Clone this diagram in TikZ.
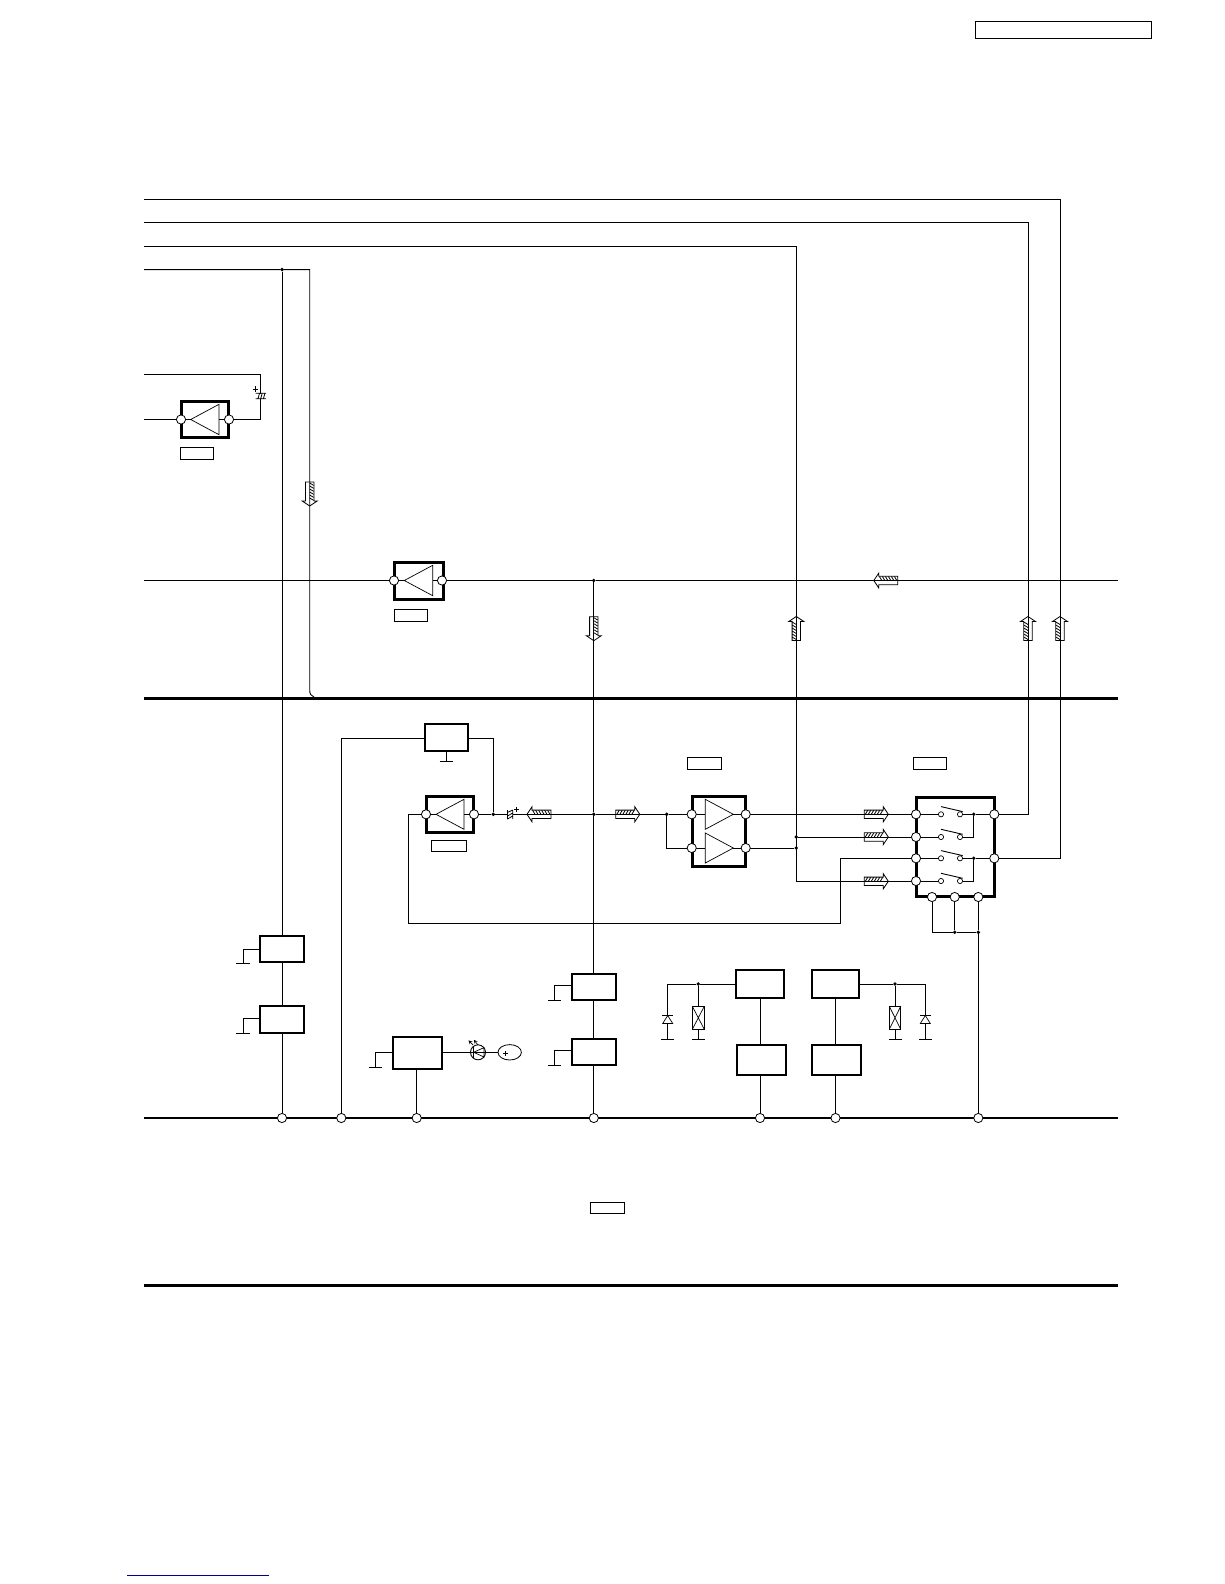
\documentclass[tikz,border=0pt]{standalone}
\usetikzlibrary{shapes.geometric}
\pgfdeclarelayer{wires}
\pgfsetlayers{wires,main}
\tikzset{
  wire/.style={line width=0.9pt,draw=black,line join=miter},
  bus/.style={line width=2.8pt,draw=black},
  heavybus/.style={line width=3.2pt,draw=black},
  pinc/.style={circle,draw=black,fill=white,line width=0.8pt,minimum size=9.2pt,inner sep=0pt,outer sep=0pt},
  contact/.style={circle,draw=black,fill=white,line width=0.7pt,minimum size=5.2pt,inner sep=0pt,outer sep=0pt},
  junction/.style={circle,fill=black,minimum size=3.8pt,inner sep=0pt,outer sep=0pt},
  ampbox/.style={rectangle,draw=black,line width=3pt,inner sep=0pt,outer sep=0pt},
  blockbox/.style={rectangle,draw=black,line width=2pt,inner sep=0pt,outer sep=0pt},
  tagbox/.style={rectangle,draw=black,line width=0.8pt,inner sep=0pt,outer sep=0pt},
  tri/.style={draw=black,line width=0.7pt,line join=miter},
  sym/.style={draw=black,line width=0.8pt},
  flowline/.style={draw=black,line width=0.8pt,line join=miter},
  hatchline/.style={draw=black,line width=0.8pt}
}
\def\boxinset{0}
% style, name, x1, y1, x2, y2 (outer edges; inset by part of the stroke)
\newcommand{\bx}[6]{%
  \pgfmathsetmacro\bxw{#5-#3-2*\boxinset}\pgfmathsetmacro\bxh{#6-#4-2*\boxinset}%
  \pgfmathsetmacro\bxx{(#3+#5)/2}\pgfmathsetmacro\bxy{(#4+#6)/2}%
  \node[#1,minimum width=\bxw pt,minimum height=\bxh pt] (#2) at (\bxx,\bxy) {};}
% tip x, base x, y, half height
\newcommand{\ampsym}[4]{\draw[tri] (#1,#3) -- (#2,{#3-#4}) -- (#2,{#3+#4}) -- cycle;}
% x, y, half width
\newcommand{\gbar}[3]{\draw[wire] ({#1-#3},#2) -- ({#1+#3},#2);}
% x, y, rotation, hatched side (-1 or 1)
\newcommand{\flowarrow}[4]{%
  \begin{scope}[shift={(#1,#2)},rotate=#3]
    \draw[flowline] (-12,-4.2) -- (7,-4.2) -- (7,-7.5) -- (12,0) -- (7,7.5) -- (7,4.2) -- (-12,4.2) -- cycle;
    \foreach \h in {-11,-8,-5,-2,1,4}{\draw[hatchline] (\h,0) -- ({\h+2.4},{#4*4});}
  \end{scope}}
% x, y, side: switch lever
\newcommand{\lever}[2]{\draw[wire] (941,{#2-7.7}) -- (962.7,{#2-2.7});}
% x of wire, y
\newcommand{\diodesym}[2]{%
  \draw[tri,fill=white] (#1,{#2-4}) -- ({#1-5},{#2+4}) -- ({#1+5},{#2+4}) -- cycle;
  \draw[tri] ({#1-5.5},{#2-4}) -- ({#1+5.5},{#2-4});}
% x1, y1, x2, y2
\newcommand{\xrect}[5]{%
  \bx{tagbox,fill=white}{#5}{#1}{#2}{#3}{#4}
  \draw[tri] (#1,#2) -- (#3,#4) (#3,#2) -- (#1,#4);}
\begin{document}
\begin{tikzpicture}[x=1pt,y=-1pt]
\begin{pgfonlayer}{wires}
\fill[white] (0,0) rectangle (1224,1584);
\end{pgfonlayer}
\useasboundingbox (0,0) rectangle (1224,1584);

% tag boxes
\bx{tagbox}{tagTop}{975.5}{21.5}{1151}{38.5}
\bx{tagbox}{tagA}{180.3}{447.3}{213.3}{459.3}
\bx{tagbox}{tagB}{394.3}{609.3}{427.3}{621.7}
\bx{tagbox}{tagC}{687.3}{757.3}{721.7}{769.7}
\bx{tagbox}{tagD}{913.3}{757.3}{946.7}{769.7}
\bx{tagbox}{tagE}{431.3}{840.3}{466.7}{851.7}
\bx{tagbox}{tagF}{590.8}{1202}{624}{1213}
\xrect{692.3}{1006.3}{704.3}{1029.3}{xrE}
\xrect{889.3}{1006.3}{900.7}{1029.3}{xrF}

% amplifier boxes
\def\boxinset{0.6}
\bx{ampbox}{ampUp}{180.7}{401}{229.3}{438}
\bx{ampbox}{ampMid}{393.7}{561.7}{443.7}{600}
\bx{ampbox}{ampLow}{425.7}{796}{474}{833}
\bx{ampbox}{ampTwin}{692}{796}{746}{866.7}
\bx{ampbox}{switchBox}{916}{796.7}{995}{897.3}

% blocks
\def\boxinset{0.2}
\bx{blockbox}{regTop}{424.7}{723.7}{467.7}{750.7}
\bx{blockbox}{regA}{260}{935.7}{304}{962}
\bx{blockbox}{regB}{260}{1006}{304}{1033.3}
\bx{blockbox}{regC}{571.3}{973.7}{616.3}{1000}
\bx{blockbox}{regD}{571.3}{1038.7}{616.3}{1065.3}
\bx{blockbox}{regLed}{392.7}{1036.7}{442.3}{1069.3}
\bx{blockbox}{regE}{736}{970}{784}{998}
\bx{blockbox}{regF}{811.7}{970}{859.3}{998}
\bx{blockbox}{regG}{737}{1045}{786.3}{1075.3}
\bx{blockbox}{regH}{812}{1045}{861.3}{1075.3}

% amplifier triangles
\ampsym{190.7}{219}{419.5}{15.2}
\ampsym{404.3}{432.7}{580.5}{15.2}
\ampsym{436}{464}{814.3}{15}
\ampsym{733.3}{705.3}{814.3}{15}
\ampsym{733.3}{705.3}{848}{15}

% pins
\node[pinc] (upL) at (181,419.5) {};
\node[pinc] (upR) at (229,419.5) {};
\node[pinc] (midL) at (394,580.5) {};
\node[pinc] (midR) at (442,580.5) {};
\node[pinc] (lowL) at (426,814.3) {};
\node[pinc] (lowR) at (474,814.3) {};
\node[pinc] (twinA) at (691.7,814.3) {};
\node[pinc] (twinB) at (691.7,848) {};
\node[pinc] (twinC) at (745.7,814.3) {};
\node[pinc] (twinD) at (745.7,848) {};
\node[pinc] (swL1) at (916,814.3) {};
\node[pinc] (swL2) at (916,837) {};
\node[pinc] (swL3) at (916,858.3) {};
\node[pinc] (swL4) at (916,881) {};
\node[pinc] (swR1) at (994.3,814.3) {};
\node[pinc] (swR2) at (994.3,858.3) {};
\node[pinc] (swB1) at (932,897) {};
\node[pinc] (swB2) at (954.7,897) {};
\node[pinc] (swB3) at (978.3,897) {};
\node[pinc] (busP1) at (282,1118) {};
\node[pinc] (busP2) at (341.3,1118) {};
\node[pinc] (busP3) at (416.7,1118) {};
\node[pinc] (busP4) at (593.8,1118) {};
\node[pinc] (busP5) at (760,1118) {};
\node[pinc] (busP6) at (835.5,1118) {};
\node[pinc] (busP7) at (978.3,1118) {};

% switch contacts
\foreach \n/\y in {1/814.3,2/837,3/858.3,4/881}{
  \node[contact] (ca\n) at (941,\y) {};
  \node[contact] (cb\n) at (960,\y) {};
  \lever{941}{\y}
}

% junctions
\node[junction] (jTap) at (282,269.6) {};
\node[junction] (jMid) at (593.8,580.5) {};
\node[junction] (jIn) at (493.3,814.3) {};
\node[junction] (jLine) at (593.8,814.3) {};
\node[junction] (jTwin) at (666.7,814.3) {};
\node[junction] (jV1) at (796.3,837) {};
\node[junction] (jV2) at (796.3,848) {};
\node[junction] (jS1) at (973.7,814.3) {};
\node[junction] (jS2) at (973.7,858.3) {};
\node[junction] (jB2) at (954.7,932.3) {};
\node[junction] (jB3) at (978.3,932.3) {};
\node[junction] (jE) at (698.3,984) {};
\node[junction] (jF) at (895,984) {};

% free ends and bends
\coordinate (inA) at (144,199);
\coordinate (inB) at (144,222);
\coordinate (inC) at (144,246.4);
\coordinate (inD) at (144,269.6);
\coordinate (inE) at (144,374.3);
\coordinate (inF) at (144,419.5);
\coordinate (inG) at (144,580.5);
\coordinate (outMid) at (1118,580.5);
\coordinate (bendA) at (1060,199);
\coordinate (bendB) at (1028,222);
\coordinate (bendC) at (796.3,246.4);
\coordinate (bendD) at (309.7,269.6);
\coordinate (bendD2) at (309.7,690);
\coordinate (bendD3) at (314,697);
\coordinate (capUp) at (260.7,374.3);
\coordinate (capDown) at (260.7,419.5);
\coordinate (regBend) at (341.3,738.3);
\coordinate (regOut) at (493.3,738.3);
\coordinate (lowBend) at (408.3,814.3);
\coordinate (lowBend2) at (408.3,923.3);
\coordinate (lowBend3) at (840.7,923.3);
\coordinate (lowBend4) at (840.7,858.3);
\coordinate (busL1) at (144,698.3);
\coordinate (busR1) at (1118,698.3);
\coordinate (busL2) at (144,1118);
\coordinate (busR2) at (1118,1118);
\coordinate (busL3) at (144,1285.6);
\coordinate (busR3) at (1118,1285.6);
\coordinate (gB1) at (932,932.3);
\coordinate (ledWire) at (498,1052.3);

% wires
\begin{pgfonlayer}{wires}
\draw[wire] (inA) -- (bendA) |- (swR2);
\draw[wire] (inB) -- (bendB) |- (swR1);
\draw[wire] (inC) -- (bendC) |- (swL4);
\draw[wire] (inD) -- (jTap) -- (bendD) -- (bendD2) .. controls (309.7,694) and (311,696) .. (bendD3);
\draw[wire] (jTap) -- (regA.north);
\draw[wire] (regA.south) -- (regB.north);
\draw[wire] (regB.south) -- (busP1);
\draw[wire] (inE) -- (capUp) -- (capDown) -- (upR);
\draw[wire] (inF) -- (upL);
\draw[wire] (upL) -- (190.7,419.5);
\draw[wire] (219,419.5) -- (upR);
\draw[wire] (inG) -- (midL);
\draw[wire] (midL) -- (404.3,580.5);
\draw[wire] (432.7,580.5) -- (midR);
\draw[wire] (midR) -- (jMid) -- (outMid);
\draw[wire] (jMid) -- (jLine) -- (regC.north);
\draw[wire] (regC.south) -- (regD.north);
\draw[wire] (regD.south) -- (busP4);
\draw[wire] (busP2) -- (regBend) -- (regBend -| regTop.west);
\draw[wire] (regOut -| regTop.east) -- (regOut) -- (jIn);
\draw[wire] (lowR) -- (jIn) -- (jLine) -- (jTwin) -- (twinA);
\draw[wire] (jTwin) |- (twinB);
\draw[wire] (464,814.3) -- (lowR);
\draw[wire] (lowL) -- (436,814.3);
\draw[wire] (lowL) -- (lowBend) -- (lowBend2) -- (lowBend3) -- (lowBend4) -- (swL3);
\draw[wire] (twinA) -- (705.3,814.3);
\draw[wire] (twinB) -- (705.3,848);
\draw[wire] (733.3,814.3) -- (twinC);
\draw[wire] (733.3,848) -- (twinD);
\draw[wire] (twinC) -- (swL1);
\draw[wire] (twinD) -- (jV2);
\draw[wire] (jV1) -- (swL2);
\foreach \n in {1,2,3,4}{\draw[wire] (swL\n) -- (ca\n);}
\draw[wire] (cb1) -- (jS1) -- (swR1);
\draw[wire] (cb3) -- (jS2) -- (swR2);
\draw[wire] (jS1) |- (cb2);
\draw[wire] (jS2) |- (cb4);
\draw[wire] (swB1) -- (gB1) -- (jB2) -- (jB3);
\draw[wire] (swB2) -- (jB2);
\draw[wire] (swB3) -- (jB3) -- (busP7);
\draw[wire] (busP5 |- regE.south) -- (busP5 |- regG.north);
\draw[wire] (busP6 |- regF.south) -- (busP6 |- regH.north);
\draw[wire] (busP5 |- regG.south) -- (busP5);
\draw[wire] (busP6 |- regH.south) -- (busP6);
\draw[wire] (regE.west) -- (jE) -- (667.7,984) -- (667.7,1039.3);
\draw[wire] (jE) -- (698.3,1039.3);
\draw[wire] (regF.east) -- (jF) -- (925.3,984) -- (925.3,1039.3);
\draw[wire] (jF) -- (895,1039.3);
\draw[wire] (busP3 |- regLed.south) -- (busP3);
\draw[wire] (ledWire -| regLed.east) -- (ledWire);
% buses
\draw[heavybus] (busL1) -- (busR1);
\draw[bus] (busL2) -- (busR2);
\draw[bus] (busL3) -- (busR3);
\end{pgfonlayer}

% grounds
\draw[wire] (regTop.south) -- (446.2,761.7); \gbar{446.2}{761.7}{6.5}
\draw[wire] (260,949.3) -| (243.3,963.3); \gbar{243.3}{963.3}{7}
\draw[wire] (260,1018.3) -| (243.3,1033.3); \gbar{243.3}{1033.3}{7}
\draw[wire] (571.3,985.3) -| (554.7,1000.3); \gbar{554.7}{1000.3}{6.5}
\draw[wire] (571.3,1050.3) -| (554.7,1065.3); \gbar{554.7}{1065.3}{6.5}
\draw[wire] (392.7,1052.3) -| (375.7,1067.3); \gbar{375.7}{1067.3}{6.5}
\gbar{667.7}{1039.3}{6.5}
\gbar{698.3}{1039.3}{6.2}
\gbar{925.3}{1039.3}{6.5}
\gbar{895}{1039.3}{6.5}

% protection parts
\diodesym{667.7}{1019.5}
\diodesym{925.3}{1019.5}

% electrolytic capacitors
\fill[white] (256,393.5) rectangle (265.5,398.5);
\draw[sym] (255.5,393.3) -- (266,393.3) (255.5,398.7) -- (266,398.7)
  (258,398.7) -- (259.5,393.3) (260.7,398.7) -- (262.2,393.3) (263.4,398.7) -- (264.9,393.3);
\draw[sym] (252.7,389) -- (258,389) (255.3,386.4) -- (255.3,391.6);
\fill[white] (507.7,810) rectangle (512.5,819);
\draw[sym] (507.5,810) -- (507.5,819) (512.7,810) -- (512.7,819)
  (507.5,812.5) -- (512.7,810) (507.5,816) -- (512.7,813) (507.5,819) -- (512.7,816);
\draw[sym] (514.2,809) -- (519.2,809) (516.7,806.5) -- (516.7,811.5);

% lamp
\node[circle,draw=black,fill=white,line width=0.9pt,minimum size=15pt,inner sep=0pt,outer sep=0pt] (ledLamp) at (478,1052.3) {};
\draw[tri] (473.3,1046.4) -- (473.3,1058.1);
\draw[tri] (484,1047.6) -- (473.6,1052.3) -- (484,1057) -- cycle;
\draw[wire] (470.5,1052.3) -- (485.5,1052.3);
\draw[line width=0.7pt,-stealth] (473,1045) -- (468.5,1040.3);
\draw[line width=0.7pt,-stealth] (478,1045) -- (473.8,1039.8);
\node[ellipse,draw=black,fill=white,line width=0.8pt,minimum width=23.4pt,minimum height=15.4pt,inner sep=0pt,outer sep=0pt] (ledSupply) at (509.7,1052.3) {};
\draw[sym] (503.3,1053.7) -- (508.1,1053.7) (505.7,1051.3) -- (505.7,1056.1);

% flow arrows
\flowarrow{309.7}{494}{270}{-1}
\flowarrow{593.8}{628.7}{270}{-1}
\flowarrow{796.3}{628.5}{90}{-1}
\flowarrow{1028}{628.5}{90}{-1}
\flowarrow{1060}{628.5}{90}{-1}
\flowarrow{885.8}{580.5}{180}{1}
\flowarrow{539}{814.3}{180}{1}
\flowarrow{627.8}{814.3}{0}{-1}
\flowarrow{876.3}{814.3}{0}{-1}
\flowarrow{876.3}{837}{0}{-1}
\flowarrow{876.3}{881.3}{0}{-1}

% bottom rule
\coordinate (blueL) at (127,1575.3);
\coordinate (blueR) at (269,1575.3);
\draw[line width=1.1pt,draw=blue!60!black] (blueL) -- (blueR);
\end{tikzpicture}
\end{document}
